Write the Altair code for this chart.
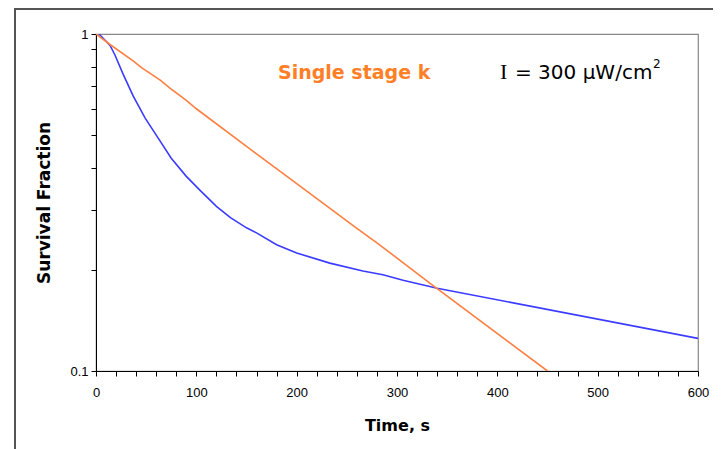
import altair as alt
import pandas as pd

# Two-stage (blue) survival curve
blue_t = [3, 14, 19, 27, 37, 49, 62, 75, 90, 104, 120, 134, 150, 160, 180, 200, 233, 266, 286, 306, 340, 600]
blue_v = [1.0, 0.925, 0.865, 0.76, 0.655, 0.563, 0.491, 0.428, 0.378, 0.343, 0.308, 0.285, 0.266,
          0.257, 0.237, 0.224, 0.209, 0.198, 0.193, 0.186, 0.176, 0.125]

# Single stage k (orange)
orange_t = [0, 15, 37, 45, 64, 74, 90, 100, 153, 195, 260, 280, 303, 333, 450]
orange_v = [1.0, 0.926, 0.832, 0.796, 0.73, 0.69, 0.635, 0.60, 0.457, 0.369, 0.265, 0.24, 0.213, 0.182, 0.1]

x_ticks = list(range(0, 601, 20))
y_ticks = [0.1, 0.2, 0.3, 0.4, 0.5, 0.6, 0.7, 0.8, 0.9, 1.0]

title_x = "Time, s"
title_y = "Survival Fraction"
note_orange = "Single stage k"
note_I = "I"
note_rest = "= 300 \u00b5W/cm"
note_sup = "2"

df = pd.concat([
    pd.DataFrame({"t": blue_t, "v": blue_v, "s": "two", "o": range(len(blue_t))}),
    pd.DataFrame({"t": orange_t, "v": orange_v, "s": "single", "o": range(len(orange_t))}),
])

W, H = 602, 337
PL, PT = 88, 26
TOTAL_W, TOTAL_H = 705, 441

x_enc = alt.X("t:Q", scale=alt.Scale(domain=[0, 600], nice=False),
              axis=alt.Axis(values=x_ticks, format="d",
                            labelExpr="datum.value % 100 == 0 ? datum.label : ''",
                            title=title_x, titleFontSize=16, titleFontWeight="bold",
                            titleFont="DejaVu Sans", titlePadding=18,
                            labelFont="Liberation Sans", labelFontSize=13, labelPadding=10,
                            tickSize=5, tickColor="black", domainColor="black",
                            labelColor="black", titleColor="black", grid=False, labelFlush=False))
y_enc = alt.Y("v:Q", scale=alt.Scale(type="log", domain=[0.1, 1], nice=False),
              axis=alt.Axis(values=y_ticks,
                            labelExpr="datum.value == 1 ? '1' : (datum.value < 0.11 ? '0.1' : '')",
                            title=title_y, titleFontSize=17, titleFontWeight="bold",
                            titleFont="DejaVu Sans", titlePadding=16,
                            labelFont="Liberation Sans", labelFontSize=13, labelPadding=3,
                            tickSize=5, tickColor="black", domainColor="black",
                            labelColor="black", titleColor="black", grid=False))

lines = alt.Chart(df).mark_line(strokeWidth=1.6, clip=True).encode(
    x=x_enc, y=y_enc,
    color=alt.Color("s:N", scale=alt.Scale(domain=["two", "single"], range=["#3b3bff", "#ff7f40"]), legend=None),
    order="o:Q",
)

ann = pd.DataFrame({"k": [note_orange, note_I, note_rest, note_sup]})

t1 = alt.Chart(ann[ann.k == note_orange]).mark_text(
    align="left", baseline="alphabetic", font="DejaVu Sans", fontWeight="bold", fontSize=19, color="#ff7f27"
).encode(x=alt.value(182), y=alt.value(45), text="k:N")
t2 = alt.Chart(ann[ann.k == note_I]).mark_text(
    align="left", baseline="alphabetic", font="Liberation Serif", fontSize=22, color="black"
).encode(x=alt.value(404), y=alt.value(45), text="k:N")
t3 = alt.Chart(ann[ann.k == note_rest]).mark_text(
    align="left", baseline="alphabetic", font="DejaVu Sans", fontSize=20, color="black"
).encode(x=alt.value(419), y=alt.value(45), text="k:N")
t4 = alt.Chart(ann[ann.k == note_sup]).mark_text(
    align="left", baseline="alphabetic", font="DejaVu Sans", fontSize=12, color="black"
).encode(x=alt.value(557), y=alt.value(34), text="k:N")

border = pd.DataFrame({"b": [1]})
left_b = alt.Chart(border).mark_rule(color="#555555", strokeWidth=2).encode(
    x=alt.value(-81), y=alt.value(-26), y2=alt.value(H + 90))
top_b = alt.Chart(border).mark_rule(color="#555555", strokeWidth=2).encode(
    y=alt.value(-25), x=alt.value(-82), x2=alt.value(W + 40))

chart = alt.layer(left_b, top_b, lines, t1, t2, t3, t4).properties(
    width=W, height=H,
    autosize=alt.AutoSizeParams(type="none"),
    padding={"left": PL, "top": PT, "right": TOTAL_W - PL - W, "bottom": TOTAL_H - PT - H},
    background="white",
).configure_view(stroke="#888888", strokeWidth=1.2)

chart.save("out.html", embed_options={"renderer": "svg", "actions": False})
